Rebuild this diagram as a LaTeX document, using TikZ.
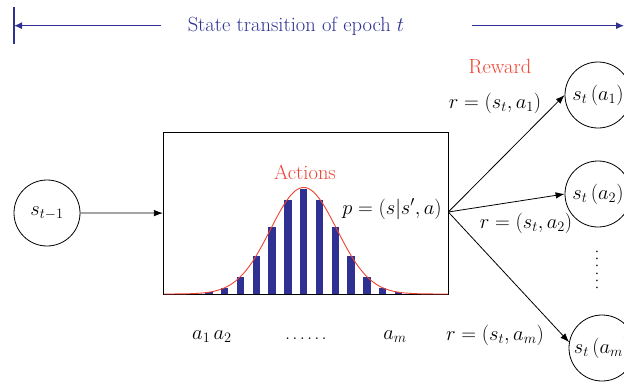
\RequirePackage{fix-cm}
\documentclass[tikz,border=0pt]{standalone}
\usetikzlibrary{arrows.meta}
\definecolor{navy}{RGB}{46,49,146}
\definecolor{redc}{RGB}{238,66,50}
\newcommand{\sixdots}{.\kern2.2pt.\kern2.2pt.\kern2.2pt.\kern2.2pt.\kern2.2pt.}
\begin{document}
\begin{tikzpicture}[x=1pt,y=-1pt,
  font=\fontsize{20.5}{24}\selectfont,
  circ/.style={draw,circle,minimum size=66pt,inner sep=0pt,line width=0.8pt},
  arr/.style={-{Latex[length=9pt,width=6.5pt]},line width=0.8pt},
  navyline/.style={draw=navy,line width=1.1pt},
  navyarr/.style={navyline,-{Latex[length=8pt,width=7pt]}},
  lbl/.style={inner sep=0pt}]
\useasboundingbox (0,0) rectangle (624,383);
% top dimension line
\coordinate (tt) at (14,7.3);
\coordinate (tb) at (14,44.3);
\coordinate (la) at (161,25.7);
\coordinate (lb) at (14,25.7);
\coordinate (ra) at (472,25.7);
\coordinate (rb) at (624,25.7);
\draw[navyline] (tt) -- (tb);
\draw[navyarr] (la) -- (lb);
\draw[navyarr] (ra) -- (rb);
\node[lbl,text=navy] (title) at (296,26) {State transition of epoch $t$};
% box
\node[draw,line width=0.8pt,minimum width=285pt,minimum height=161.7pt,inner sep=0pt] (box) at (305.8,213.1) {};
% bars
\foreach \k in {-6,...,6}{
  \fill[navy] ({303.7+15.8*\k-3.65},294) rectangle ++(7.3,{-105*exp(-\k*\k/8.8)});
}
% gaussian curve
\draw[redc,line width=0.9pt] plot[domain=164:448,samples=200,smooth] (\x,{294-106.5*exp(-0.5*((\x-303.7)/33.2)*((\x-303.7)/33.2))});
\node[lbl,text=redc] (actions) at (305,172) {Actions};
\node[lbl] (p) at (392,209) {$p=(s|s',a)$};
% left state
\node[circ] (s0) at (47,213) {$s_{t-1}$};
\draw[arr] (s0) -- (box.west);
% right states
\node[circ] (c1) at (598,95) {$s_t\,(a_1)$};
\node[circ] (c2) at (598,194) {$s_t\,(a_2)$};
\node[circ] (c3) at (602,348) {$s_t\,(a_m)$};
\coordinate (fan) at (448.3,212);
\draw[arr] (fan) -- (c1.west);
\draw[arr] (fan) -- (c2.west);
\draw[arr] (fan) -- (c3.170);
\node[lbl,rotate=90] (vd) at (597,270) {\sixdots};
% labels
\node[lbl,text=redc] (reward) at (500,67) {Reward};
\node[lbl] (r1) at (495,103) {$r=(s_t, a_1)$};
\node[lbl] (r2) at (526,223) {$r=(s_t, a_2)$};
\node[lbl] (rm) at (495,335) {$r=(s_t, a_m)$};
\node[lbl] (a12) at (212,337) {$a_1\,a_2$};
\node[lbl] (dots) at (306,339) {\sixdots};
\node[lbl] (am) at (395,337) {$a_m$};
\end{tikzpicture}
\end{document}
